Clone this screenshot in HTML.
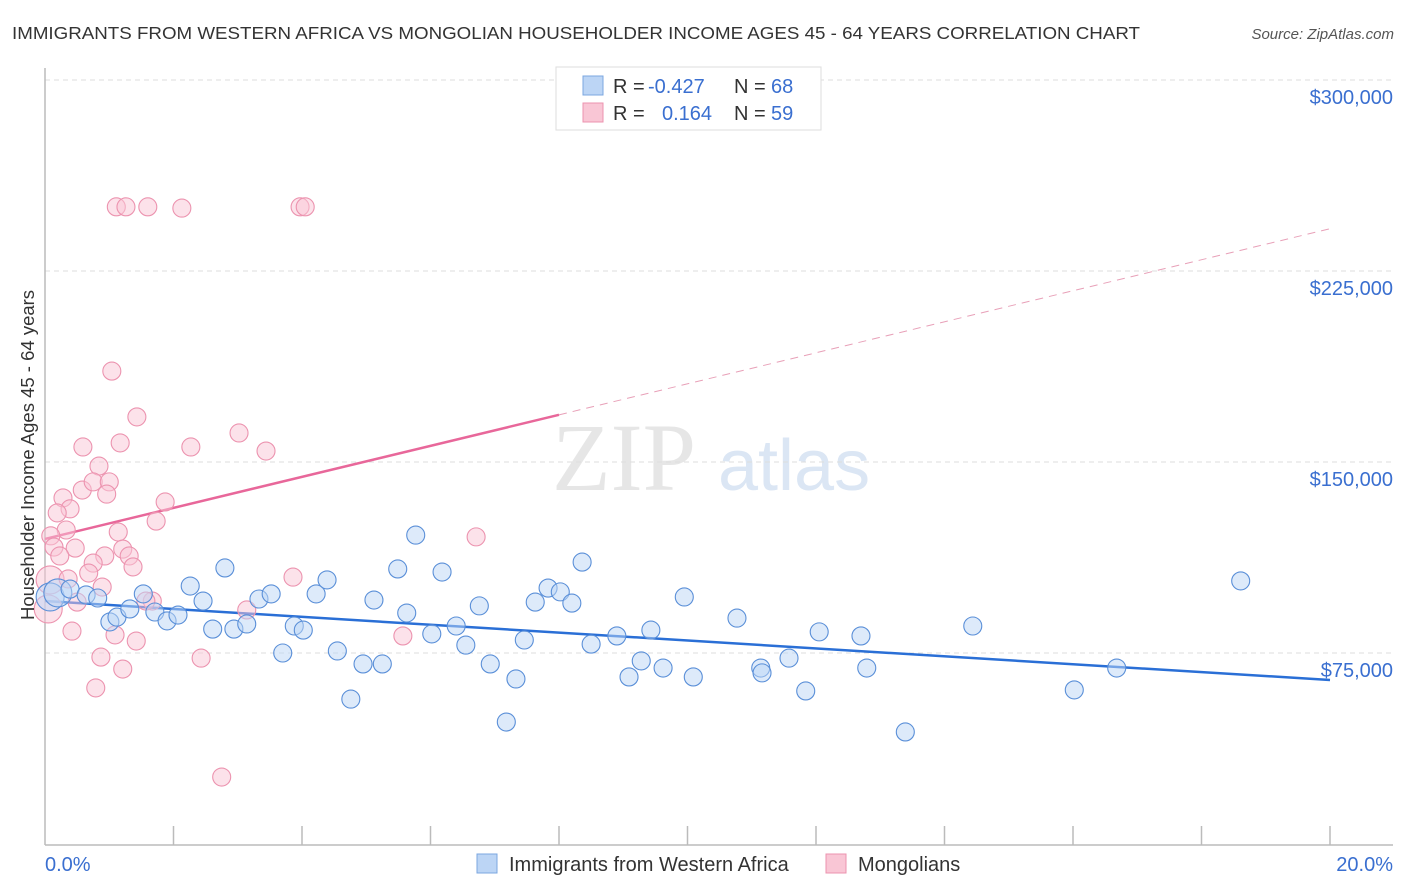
<!DOCTYPE html>
<html><head><meta charset="utf-8"><style>
body{margin:0;background:#fff;width:1406px;height:892px;overflow:hidden;font-family:"Liberation Sans",sans-serif}
svg{display:block}
</style></head><body>
<svg id="chart" width="1406" height="892" xmlns="http://www.w3.org/2000/svg">
<text x="12" y="39" font-size="17.5" fill="#333" textLength="1128" lengthAdjust="spacingAndGlyphs">IMMIGRANTS FROM WESTERN AFRICA VS MONGOLIAN HOUSEHOLDER INCOME AGES 45 - 64 YEARS CORRELATION CHART</text>
<text x="1394" y="39" font-size="15" fill="#555" text-anchor="end" font-style="italic">Source: ZipAtlas.com</text>
<g>
<text x="552" y="490" font-family="Liberation Serif,serif" font-size="96" fill="#e6e6e6">ZIP</text>
<text x="718" y="490" font-size="72" fill="#dbe6f4">atlas</text>
</g>
<g id="grid"></g><g id="axes"></g><g id="trend"></g><g id="pts"></g>
<text transform="translate(34,455) rotate(-90)" font-size="18.5" fill="#333" text-anchor="middle">Householder Income Ages 45 - 64 years</text>
<g>
<rect x="556" y="67" width="265" height="63" fill="#fff" stroke="#ddd"/>
<rect x="583" y="76" width="20" height="19" fill="#bcd5f5" stroke="#7ba7e0"/>
<rect x="583" y="103" width="20" height="19" fill="#f9c6d5" stroke="#ec93af"/>
<text x="613" y="93" font-size="20" fill="#333">R =</text>
<text x="648" y="93" font-size="20" fill="#3a6fd0">-0.427</text>
<text x="734" y="93" font-size="20" fill="#333">N =</text>
<text x="771" y="93" font-size="20" fill="#3a6fd0">68</text>
<text x="613" y="120" font-size="20" fill="#333">R =</text>
<text x="662" y="120" font-size="20" fill="#3a6fd0">0.164</text>
<text x="734" y="120" font-size="20" fill="#333">N =</text>
<text x="771" y="120" font-size="20" fill="#3a6fd0">59</text>
</g>
<g>
<rect x="477" y="854" width="20" height="19" fill="#bcd5f5" stroke="#7ba7e0"/>
<text x="509" y="871" font-size="20" fill="#333">Immigrants from Western Africa</text>
<rect x="826" y="854" width="20" height="19" fill="#f9c6d5" stroke="#ec93af"/>
<text x="858" y="871" font-size="20" fill="#333">Mongolians</text>
</g>
</svg>
<script>
const yTicks=[75000,150000,225000,300000];
const yTickLabels=["$75,000","$150,000","$225,000","$300,000"];
const xTickLabels=["0.0%","20.0%"];
const blueX=[0.08,0.2,0.39,0.64,0.82,1.01,1.12,1.32,1.53,1.71,1.9,2.07,2.26,2.46,2.61,2.8,2.94,3.14,3.33,3.52,3.7,3.88,4.02,4.22,4.39,4.55,4.76,4.95,5.12,5.25,5.49,5.63,5.77,6.02,6.18,6.4,6.55,6.76,6.93,7.18,7.33,7.46,7.63,7.83,8.02,8.2,8.36,8.5,8.9,9.09,9.28,9.43,9.62,9.95,10.09,10.77,11.14,11.16,11.58,11.84,12.05,12.7,12.79,13.39,14.44,16.02,16.68,18.61];
const blueY=[97,98.6,100.1,97.8,96.6,87.2,89.1,92.3,98.2,91.1,87.6,89.9,101.3,95.4,84.4,108.4,84.4,86.4,96.2,98.2,75,85.6,84,98.2,103.7,75.8,56.9,70.7,95.8,70.7,108,90.7,121.3,82.5,106.8,85.6,78.1,93.5,70.7,47.9,64.8,80.1,95,100.5,99,94.6,110.7,78.5,81.7,65.6,71.9,84,69.1,97,65.6,88.7,69.1,67.2,73,60.1,83.3,81.7,69.1,44,85.6,60.5,69.1,103.3];
const pinkX=[0.08,0.05,1.11,1.26,1.6,2.13,3.97,4.05,1.04,1.43,0.59,1.17,2.27,3.02,3.44,0.84,0.58,0.75,1,0.96,0.28,0.39,0.19,1.87,1.73,0.33,0.09,0.14,0.47,0.23,1.14,0.93,1.21,1.31,1.37,0.75,0.68,0.89,0.36,3.86,1.67,1.57,0.5,3.14,6.71,0.42,1.09,1.42,0.87,2.43,1.21,0.79,5.57,2.75];
const pinkY=[103.7,92.3,250.2,250.2,250.2,249.7,250.2,250.2,185.7,167.7,155.9,157.5,155.9,161.4,154.3,148.4,139,142.2,142.2,137.4,135.9,131.6,130,134.3,126.8,123.3,121,116.6,116.2,113.1,122.5,113.1,115.8,113.1,108.8,110.3,106.4,100.9,104.1,104.8,95.4,95.4,95,91.9,120.6,83.6,82.1,79.7,73.4,73,68.7,61.3,81.7,26.3];
const blueTrend=[95.4,64.4];
const pinkTrend=[119.8,241.6];
const pinkSolidEnd=8;
const X=p=>45+p*64.25, Y=k=>844-k*1000*191/75000;
const NS="http://www.w3.org/2000/svg";
function mk(t,a,parent){const e=document.createElementNS(NS,t);for(const k in a)e.setAttribute(k,a[k]);document.getElementById(parent).appendChild(e);return e;}
yTicks.forEach((v,i)=>{
 const l=mk('line',{x1:45,x2:1393,y1:Y(v/1000),y2:Y(v/1000),stroke:'#ddd','stroke-dasharray':'5,4'},'grid');
 
 
 const t=mk('text',{x:1393,y:Y(v/1000)+24,'font-size':20,fill:'#3a6fd0','text-anchor':'end'},'grid');
 t.textContent=yTickLabels[i];
 
 
});
const ax=mk('line',{x1:45,x2:1393,y1:845,y2:845,stroke:'#bbb','stroke-width':1.5},'axes');


const ay=mk('line',{x1:45,x2:45,y1:68,y2:845,stroke:'#bbb','stroke-width':1.5},'axes');


for(let p=2;p<=20;p+=2){const t=mk('line',{x1:X(p),x2:X(p),y1:826,y2:845,stroke:'#bbb','stroke-width':1.5},'axes');
 
 }
[[0,'start',45],[1,'end',1393]].forEach(([i,a,x])=>{const t=mk('text',{x:x,y:871,'font-size':20,fill:'#3a6fd0','text-anchor':a},'axes');t.textContent=xTickLabels[i];
 
 });
function dot(x,y,big,fill,stroke){const c=mk('circle',{cx:X(x),cy:Y(y),r:big?14:9,fill:fill,'fill-opacity':0.5,stroke:stroke,'stroke-width':1.1},'pts');return c;}
pinkX.forEach((x,i)=>{const c=dot(x,pinkY[i],i<2,'#f9c6d5','#ec93af');
 
 });
blueX.forEach((x,i)=>{const c=dot(x,blueY[i],i<2,'#bcd5f5','#5a8fd8');
 
 });
const pAt=p=>pinkTrend[0]+(pinkTrend[1]-pinkTrend[0])*p/20;
const t1=mk('line',{x1:X(0),y1:Y(blueTrend[0]),x2:X(20),y2:Y(blueTrend[1]),stroke:'#2a6fd6','stroke-width':2.5},'trend');


const t2=mk('line',{x1:X(0),y1:Y(pAt(0)),x2:X(pinkSolidEnd),y2:Y(pAt(pinkSolidEnd)),stroke:'#e8679a','stroke-width':2.5},'trend');


const t3=mk('line',{x1:X(pinkSolidEnd),y1:Y(pAt(pinkSolidEnd)),x2:X(20),y2:Y(pAt(20)),stroke:'#e8a0b8','stroke-width':1,'stroke-dasharray':'8,6'},'trend');


</script>
</body></html>
